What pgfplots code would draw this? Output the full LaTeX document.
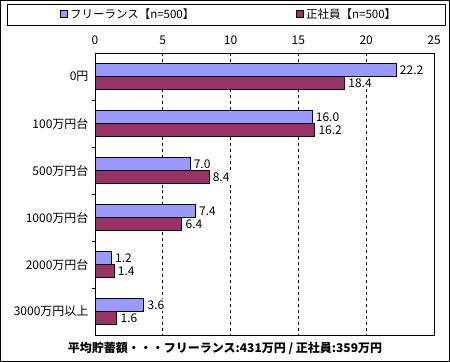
\documentclass[border=0pt]{standalone}
\usepackage{pgfplots}
\pgfplotsset{compat=1.18}
\usepackage{fontspec}
\setmainfont{Noto Sans CJK JP}
\definecolor{fl}{HTML}{9999FF}
\definecolor{sy}{HTML}{993366}
\begin{document}
\begin{tikzpicture}
\useasboundingbox (0,0) rectangle (450bp,-362bp);
\draw[line width=1bp] (0.5bp,-0.5bp) rectangle (449.5bp,-361.5bp);
\draw[line width=1bp] (7bp,-4.5bp) rectangle (445bp,-25bp);
\begin{axis}[
  at={(95bp,-53bp)}, anchor=north west,
  scale only axis, width=339bp, height=282bp,
  xbar, bar width=13bp,
  xmin=0, xmax=25, xtick={0,5,10,15,20,25},
  xticklabels={0,5,10,15,20,25},
  xticklabel pos=upper,
  y dir=reverse, ymin=-0.5, ymax=5.5,
  ytick={0,1,2,3,4,5},
  yticklabels={0円,100万円台,500万円台,1000万円台,2000万円台,3000万円以上},
  extra y ticks={0.5,1.5,2.5,3.5,4.5},
  extra y tick labels={},
  extra y tick style={major tick length=3bp, tick style={black, line width=0.8bp}, ytick pos=left},
  major tick length=0pt,
  xmajorgrids, major grid style={black, dashed, line width=0.8bp},
  axis line style={line width=1bp},
  tick label style={font=\fontsize{12bp}{14bp}\selectfont},
  /pgf/number format/assume math mode=true,
  xticklabel style={yshift=5bp},
  yticklabel style={xshift=-3bp},
  nodes near coords,
  nodes near coords style={font=\fontsize{12bp}{14bp}\selectfont, xshift=2bp, fill=white, inner sep=1.5bp},
  /pgf/number format/fixed, /pgf/number format/fixed zerofill, /pgf/number format/precision=1,
  legend columns=2,
  legend style={draw=none, fill=none, at={(-0.112,1.137)}, anchor=west,
     font=\fontsize{11.5bp}{13bp}\selectfont,
     /tikz/every even column/.append style={column sep=100bp}},
  legend image code/.code={\draw[#1, line width=0.8bp] (0bp,-3.5bp) rectangle (7bp,3.5bp);},
]
\addplot[fill=fl, draw=black, line width=0.8bp, bar shift=6.5bp] coordinates {(22.2,0) (16.0,1) (7.0,2) (7.4,3) (1.2,4) (3.6,5)};
\addplot[fill=sy, draw=black, line width=0.8bp, bar shift=-6.5bp] coordinates {(18.4,0) (16.2,1) (8.4,2) (6.4,3) (1.4,4) (1.6,5)};
\legend{フリーランス【n=500】,正社員【n=500】}
\end{axis}
\node[font=\bfseries\fontsize{12bp}{14bp}\selectfont] at (225bp,-348bp) {平均貯蓄額・・・フリーランス:431万円 / 正社員:359万円};
\end{tikzpicture}
\end{document}
